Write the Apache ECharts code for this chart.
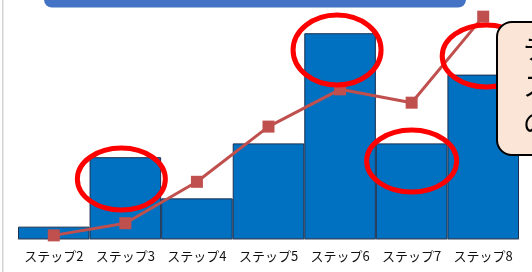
<!DOCTYPE html>
<html>
<head>
<meta charset="utf-8">
<script src="https://cdn.jsdelivr.net/npm/echarts@6/dist/echarts.min.js"></script>
<style>
html,body{margin:0;padding:0;background:#fff;}
#c{width:532px;height:272px;}
</style>
</head>
<body>
<div id="c"></div>
<script>
var categories = ['ステップ2','ステップ3','ステップ4','ステップ5','ステップ6','ステップ7','ステップ8'];
var barValues = [5.5, 35.7, 17.8, 41.7, 89.6, 41.7, 71.6];
var lineValues = [1.7, 7.0, 25.0, 49.0, 65.2, 59.4, 96.8];
// annotation ellipses anchored in data space: [category index, value, x offset px]
var highlightAnchors = [[1, 26.2, -4], [4, 82.3, -3], [5, 34.0, 0], [6, 79.7, 3]];
var calloutLines = ['テキスト', 'スタイル', 'の変更'];

var chart = echarts.init(document.getElementById('c'), null, {renderer: 'canvas'});
var option = {
  animation: false,
  backgroundColor: '#ffffff',
  grid: {left: 18, right: 13, top: 9.3, bottom: 32.7, containLabel: false},
  xAxis: {
    type: 'category',
    data: categories,
    axisLine: {show: true, lineStyle: {color: '#C8CDD6', width: 1}},
    axisTick: {show: false},
    axisLabel: {color: '#111', fontSize: 13, margin: 10, interval: 0, fontFamily: 'Noto Sans CJK JP'}
  },
  yAxis: {
    type: 'value', min: 0, max: 100,
    show: false,
    splitLine: {show: false}
  },
  series: [
    {
      type: 'bar', data: barValues, barCategoryGap: '0%',
      itemStyle: {color: '#0070C0', borderColor: '#1B2F4F', borderWidth: 1}
    },
    {
      type: 'line', data: lineValues, symbol: 'rect', symbolSize: 12,
      lineStyle: {color: '#C0504D', width: 3},
      itemStyle: {color: '#C0504D'}, z: 3
    }
  ]
};
chart.setOption(option);

var radii = [[44, 31], [44, 35], [45, 31], [44, 31]];
var graphics = [
  {type: 'rect', shape: {x: 2, y: 0, width: 1.5, height: 272}, style: {fill: '#D3D3D3'}, z: 1},
  {type: 'rect', shape: {x: 44, y: -12, width: 422, height: 19.5, r: 8}, style: {fill: '#4472C4'}, z: 10}
];
highlightAnchors.forEach(function (a, i) {
  var p = chart.convertToPixel({xAxisIndex: 0, yAxisIndex: 0}, [a[0], a[1]]);
  graphics.push({
    type: 'ellipse',
    shape: {cx: p[0] + a[2], cy: p[1], rx: radii[i][0], ry: radii[i][1]},
    style: {fill: 'none', stroke: '#FF0000', lineWidth: 5},
    z: 20
  });
});
graphics.push({
  type: 'rect',
  shape: {x: 497, y: 22, width: 80, height: 133, r: 15},
  style: {fill: '#FBE5D6', stroke: '#000000', lineWidth: 2},
  z: 30
});
graphics.push({
  type: 'text',
  x: 523, y: 30,
  style: {text: calloutLines.join('\n'), fontSize: 27, lineHeight: 37, fill: '#000', fontFamily: 'Noto Sans CJK JP'},
  z: 31
});
chart.setOption({graphic: graphics});
</script>
</body>
</html>
